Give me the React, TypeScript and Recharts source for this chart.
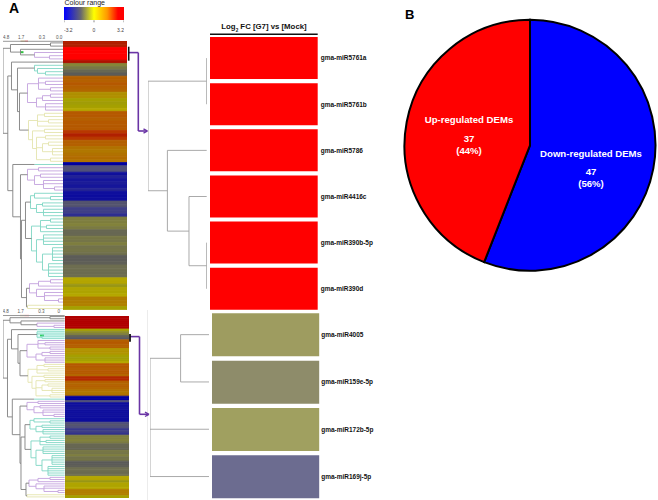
import React from 'react';
import { BarChart, Bar, Cell, ComposedChart, Line, PieChart, Pie, XAxis, YAxis, ReferenceLine, ReferenceArea } from 'recharts';

const FONT = '"Liberation Sans", Arial, sans-serif';

// log2 FC per row (84 miRNAs each)
const upperRows = [
  2.7, 2.7, 3.2, 3.2, 3.2, 3.2, 2.8, -0.1, -0.3, -0.6, -0.8, 1.8, 1.8, 1.9, 1.8, 1.7, 1.0, 1.0, 0.3, 0.25, 0.3,
  0.6, 1.9, 1.9, 1.8, 1.9, 1.9, 1.9, 2.4, 2.7, 2.4, 1.8, 1.8, 1.5, 1.4, 1.5, 1.6, 1.5, -3.0, -1.1, -1.1, -2.2,
  -1.9, -2.1, -2.0, -2.1, -1.8, -2.3, -2.4, -2.3, -1.0, -1.0, -1.3, -1.3, -1.6, -0.2, -0.2, -0.15, -0.25, -0.6,
  -0.6, -0.3, -0.35, -0.2, -0.4, -0.35, -0.45, -0.8, -0.8, -0.75, -0.5, -0.5, -0.55, -0.5, 0.6, 0.65, 0.15, 0.5,
  0.45, 0.6, 1.3, 1.3, 1.25, 0.3,
];
const lowerRows = [
  2.9, 2.9, 2.9, 2.9, 2.9, 2.9, 0.4, 0.0, -0.2, -0.7, -0.9, 1.8, 1.9, 1.8, 1.8, 0.9, 1.0, 0.9, 0.3, 0.25, 0.3,
  0.6, 1.9, 1.9, 1.8, 1.9, 1.9, 1.7, 2.6, 2.6, 1.8, 1.7, 1.8, 1.7, 1.5, 1.4, 1.5, -3.0, -3.0, -1.1, -2.3, -2.2,
  -2.1, -2.2, -2.3, -2.2, -2.3, -2.3, -2.4, -1.1, -1.0, -1.1, -1.4, -1.3, -1.5, -0.2, -0.2, -0.15, -0.25, -0.6,
  -0.6, -0.65, -0.3, -0.35, -0.2, -0.4, -0.35, -0.8, -0.8, -0.75, -0.5, -0.5, -0.55, -0.5, 0.6, 0.65, 0.15, 0.5,
  0.45, 0.6, 1.3, 1.3, 1.25, 0.3,
];

const upperNames = ['gma-miR5761a', 'gma-miR5761b', 'gma-miR5786', 'gma-miR4416c', 'gma-miR390b-5p', 'gma-miR390d'];
const upperFills = ['#ff0000', '#ff0000', '#ff0000', '#ff0000', '#ff0000', '#ff0000'];
const lowerNames = ['gma-miR4005', 'gma-miR159e-5p', 'gma-miR172b-5p', 'gma-miR169j-5p'];
const lowerFills = ['#9e9c60', '#8e8c6a', '#a0a060', '#6c6c90'];

const pieNames = ['Down-regulated DEMs', 'Up-regulated DEMs'];
const pieCounts = [47, 37];
const pieFills = ['#0000ff', '#ff0000'];

const scaleTicks = [5.7, 20.7, 41.5, 58.7];
const scaleLabels = ['4.8', '1.7', '0.3', '0.0'];
const lowerScaleLabels = ['4.8', '1.7', '0.3', '0'];
const rangeTicks = [-3.2, 0, 3.2];

// dimmed heat colours as they appear in the columns
const heatStops: [number, string][] = [
  [-3.2, '#0000a0'], [-3.0, '#0000a0'], [-2.2, '#10109c'], [-2.0, '#1c1c98'], [-1.4, '#38388c'], [-1.1, '#50507a'],
  [-0.8, '#5c5c58'], [-0.5, '#6e6e50'], [-0.3, '#777745'], [-0.1, '#858538'], [0.3, '#a5a000'], [0.6, '#b5a800'],
  [1.0, '#b09000'], [1.4, '#b07800'], [1.8, '#b46000'], [2.4, '#b83800'], [2.7, '#b02000'], [2.9, '#b00000'],
  [3.1, '#c00000'], [3.2, '#ff0000'],
];

const heatColor = (v: number) => {
  for (let i = 1; i < heatStops.length; i++) {
    const [v0, c0] = heatStops[i - 1];
    const [v1, c1] = heatStops[i];
    if (v <= v1) {
      const t = (v - v0) / (v1 - v0);
      const ch = (c: string, k: number) => parseInt(c.slice(k, k + 2), 16);
      const mix = (k: number) => Math.round(ch(c0, k) + (ch(c1, k) - ch(c0, k)) * Math.max(t, 0));
      return `rgb(${mix(1)},${mix(3)},${mix(5)})`;
    }
  }
  return '#ff0000';
};

// dendrograms: each node is [distance, colour, ...children], a 1 is one leaf
type Tree = 1 | { x: number; color: string; kids: Tree[] };
const n = (x: number, color: string, ...kids: Tree[]): Tree => ({ x, color, kids });

const G = '#808080';
const L = '#a0a0a0';
const P = '#c3a2de';
const T = '#7fd6c4';
const Y = '#e4e4ae';

const purpleA = n(27, P, n(38, P, 1, n(45, P, 1, 1), n(50, P, 1, 1)), n(36, P, n(42, P, n(50, P, 1, 1), 1), n(45, P, 1, 1, 1)));
const yellowA = n(28, Y, n(37, Y, n(44, Y, 1, 1), n(48, Y, 1, 1), 1), n(32, Y, n(44, Y, 1, 1), n(36, Y, n(45, Y, 1, 1), n(42, Y, n(48, Y, 1, 1), n(52, Y, 1, 1, 1)), n(50, Y, 1, 1))));
const tealTop = n(34, T, 1, n(37, T, 1, n(45, T, 1, 1)));
const purpleB = n(27, P, n(38, P, 1, 1), n(34, P, n(40, P, 1, 1), n(43, P, 1, 1, n(54, P, 1, 1))));
const tealBlue = n(30, T, n(34, T, 1, n(50, T, 1, 1)), n(36, T, n(42, T, 1, 1), n(43, T, 1, 1, 1)));
const tealOlive = n(31, T, n(40, T, n(50, T, 1, 1), n(46, T, 1, 1), 1), n(36, T, n(43, T, 1, 1, 1, 1), n(42, T, n(52, T, 1, 1, 1, 1, 1), n(48, T, 1, 1, 1, 1, 1))));
const purpleC = n(29, P, n(38, P, n(50, P, 1, 1), 1), n(36, P, 1, n(44, P, 1, 1, n(58, P, 1, 1))));
const lowerBranch = n(12.3, G, n(34, T, 1), n(20, G, purpleB, n(21, G, n(25, G, tealBlue, tealOlive), n(26, G, purpleC, n(27, Y, 1, 1)))));

const upperTree = n(2.5, G,
  n(10, G, n(50, G, 1, 1), n(20, G, 1, n(34, P, 1, n(49, P, 1, 1)))),
  n(7.3, G, n(11, G, 1, n(17, G, tealTop, n(19, G, purpleA, yellowA))), lowerBranch));

const lowerTree = n(3, G,
  n(10, G, n(50, G, 1, 1), n(21, G, 1, n(37, P, 1, n(54, P, 1, 1)))),
  n(7.5, G, n(11.5, G, n(37, T, 1), n(18, G, n(37, T, 1, 1, n(42, T, 1, 1)), n(20, G, purpleA, yellowA))), lowerBranch));

const upperDetailTree = n(148.3, L, n(207, L, 1, 1), n(167.7, L, 1, n(189.3, L, 1, n(207, L, 1, 1))));
const lowerDetailTree = n(149.7, L, n(180.3, L, 1, 1), 1, 1);

interface Seg { x1: number; y1: number; x2: number; y2: number; color: string; }

const flatten = (root: Tree, leafX: number) => {
  const segs: Seg[] = [];
  let row = 0;
  const walk = (node: Tree, parent?: { x: number; color: string }): number => {
    if (node === 1) {
      const y = row + 0.5;
      row++;
      segs.push({ x1: parent!.x, y1: y, x2: leafX, y2: y, color: parent!.color });
      return y;
    }
    const ys = node.kids.map((k) => walk(k, node));
    const y = (ys[0] + ys[ys.length - 1]) / 2;
    segs.push({ x1: node.x, y1: ys[0], x2: node.x, y2: ys[ys.length - 1], color: node.color });
    if (parent) segs.push({ x1: parent.x, y1: y, x2: node.x, y2: y, color: parent.color });
    return y;
  };
  walk(root);
  return segs;
};

const Place = ({ left, top, children }: { left: number; top: number; children: React.ReactNode }) => (
  <div style={{ position: 'absolute', left, top }}>{children}</div>
);

// one stacked column: every row is a 1-high slice coloured by its log2 FC
const HeatColumn = ({ rows, width, height }: { rows: number[]; width: number; height: number }) => {
  const datum: Record<string, number | string> = { name: 'heat' };
  rows.forEach((_, i) => {
    datum[`r${i}`] = 1;
  });
  return (
    <BarChart width={width} height={height} data={[datum]} margin={{ top: 0, right: 0, bottom: 0, left: 0 }} barCategoryGap={0}>
      <XAxis type="category" dataKey="name" hide />
      <YAxis type="number" domain={[0, rows.length]} reversed hide />
      {rows.map((fc, i) => (
        <Bar key={i} dataKey={`r${i}`} stackId="heat" fill={heatColor(fc)} stroke={heatColor(fc)} strokeWidth={0.8} isAnimationActive={false} />
      ))}
    </BarChart>
  );
};

const TreeChart = ({ root, rows, domain, leafX, width, height, labels, axisHeight = 0, strokeWidth = 0.9, children }: any) => {
  const corners = [{ x: domain[0], y: 0 }, { x: domain[1], y: rows }];
  return (
    <ComposedChart width={width} height={height} data={corners} margin={{ top: 0, right: 0, bottom: 0, left: 0 }}>
      {labels ? (
        <XAxis
          type="number"
          dataKey="x"
          orientation="top"
          domain={domain}
          ticks={scaleTicks}
          interval={0}
          height={axisHeight}
          tickLine={false}
          tickMargin={0}
          stroke="#999"
          tick={{ fontSize: 4.6, fill: '#555', dy: 3.5 }}
          tickFormatter={(v: number) => labels[scaleTicks.indexOf(v)]}
        />
      ) : (
        <XAxis type="number" dataKey="x" domain={domain} hide />
      )}
      <YAxis type="number" domain={[0, rows]} reversed hide />
      <Line dataKey="y" stroke="none" dot={false} isAnimationActive={false} />
      {children}
      {flatten(root, leafX).map((s, i) => (
        <ReferenceLine
          key={i}
          ifOverflow="visible"
          stroke={s.color}
          strokeWidth={strokeWidth}
          segment={[{ x: s.x1, y: s.y1 }, { x: s.x2, y: s.y2 }]}
        />
      ))}
    </ComposedChart>
  );
};

const DetailBars = ({ names, fills, width, height, offset, tickMargin }: any) => {
  const data = names.map((name: string) => ({ name, span: 1 }));
  return (
    <BarChart width={width} height={height} data={data} layout="vertical" margin={{ top: 0, right: 0, bottom: 0, left: 0 }} barCategoryGap={offset}>
      <XAxis type="number" domain={[0, 1]} hide />
      <YAxis
        type="category"
        dataKey="name"
        orientation="right"
        width={70}
        axisLine={false}
        tickLine={false}
        tickSize={0}
        tickMargin={tickMargin}
        interval={0}
        tick={{ fontSize: 6.5, fontWeight: 700, fill: '#111', textAnchor: 'start' }}
      />
      <Bar dataKey="span" isAnimationActive={false}>
        {data.map((d: any, i: number) => (
          <Cell key={d.name} fill={fills[i]} />
        ))}
      </Bar>
    </BarChart>
  );
};

const RangeTick = ({ x, y, payload }: any) => (
  <text
    x={x}
    y={y + 8}
    fontSize={5}
    fill="#444"
    textAnchor={payload.value < 0 ? 'start' : payload.value > 0 ? 'end' : 'middle'}
  >
    {payload.value}
  </text>
);

const ColourRange = () => (
  <BarChart
    width={60}
    height={28}
    data={[{ name: 'range', span: [-3.2, 3.2] }]}
    layout="vertical"
    margin={{ top: 0, right: 0, bottom: 0, left: 0 }}
    barCategoryGap={0}
  >
    <defs>
      <linearGradient id="colourRange" x1="0" y1="0" x2="1" y2="0">
        <stop offset="0%" stopColor="#0000ff" />
        <stop offset="28%" stopColor="#666670" />
        <stop offset="50%" stopColor="#ffff00" />
        <stop offset="72%" stopColor="#ff9800" />
        <stop offset="90%" stopColor="#ff0000" />
        <stop offset="100%" stopColor="#ff0000" />
      </linearGradient>
    </defs>
    <XAxis type="number" domain={[-3.2, 3.2]} ticks={rangeTicks} interval={0} height={14.7} tickSize={2} axisLine={false} stroke="#888" tick={<RangeTick />} />
    <YAxis type="category" dataKey="name" hide />
    <Bar dataKey="span" fill="url(#colourRange)" isAnimationActive={false} />
  </BarChart>
);

// hand placed offsets of the slice captions from the pie centre
const pieCaptions = [
  { dx: 61, lines: [8.4, 26.7, 38.7] },
  { dx: -61, lines: [-25.3, -6.3, 5.4] },
];

const renderPieLabel = ({ cx, cy, index, name, value }: any) => {
  const { dx, lines } = pieCaptions[index];
  const total = pieCounts.reduce((a, b) => a + b, 0);
  const rows = [name, String(value), `(${Math.round((value / total) * 100)}%)`];
  return (
    <g key={name}>
      {rows.map((t, i) => (
        <text key={i} x={cx + dx} y={cy + lines[i] + 3.3} fill="#fff" fontSize={9.6} fontWeight={700} textAnchor="middle">
          {t}
        </text>
      ))}
    </g>
  );
};

// connector lines between the columns and the close-ups
const purpleUpper = [[129, 52.6], [138.3, 52.6], [138.3, 131], [146.5, 131]];
const purpleLower = [[130, 336.6], [139.5, 336.6], [139.5, 414.3], [148, 414.3]];
const pageCorners = [{ x: 0, y: 0 }, { x: 658, y: 500 }];

const Overlay = () => {
  const path = (pts: number[][], stroke: string, strokeWidth: number, prefix: string) =>
    pts.slice(1).map((p, i) => (
      <ReferenceLine
        key={`${prefix}${i}`}
        ifOverflow="visible"
        stroke={stroke}
        strokeWidth={strokeWidth}
        segment={[{ x: pts[i][0], y: pts[i][1] }, { x: p[0], y: p[1] }]}
      />
    ));
  const PURPLE = '#6a35a5';
  return (
    <ComposedChart width={658} height={500} data={pageCorners} margin={{ top: 0, right: 0, bottom: 0, left: 0 }}>
      <XAxis type="number" dataKey="x" domain={[0, 658]} hide />
      <YAxis type="number" domain={[0, 500]} reversed hide />
      <Line dataKey="y" stroke="none" dot={false} isAnimationActive={false} />
      {path([[147.5, 310], [147.5, 500]], '#ececec', 1, 'f')}
      {path(purpleUpper, PURPLE, 1.6, 'u')}
      {path(purpleLower, PURPLE, 1.6, 'l')}
      {path([[143.5, 128.8], [147.5, 131], [143.5, 133.2]], PURPLE, 1.4, 'ua')}
      {path([[145, 412.1], [149, 414.3], [145, 416.5]], PURPLE, 1.4, 'la')}
      {path([[128.7, 46.7], [128.7, 60.7]], '#111', 1.6, 'ub')}
      {path([[130, 334], [130, 341.7]], '#111', 1.8, 'lb')}
      {path([[210, 34.3], [317.7, 34.3]], '#111', 1.4, 't')}
    </ComposedChart>
  );
};

export default function App() {
  return (
    <div style={{ position: 'relative', width: 658, height: 500, background: '#fff', overflow: 'hidden', fontFamily: FONT }}>
      <style>{'body{margin:0}'}</style>

      <div style={{ position: 'absolute', left: 9, top: 0, fontSize: 14, lineHeight: '16px', fontWeight: 700 }}>A</div>
      <div style={{ position: 'absolute', left: 405, top: 7, fontSize: 13, lineHeight: '15px', fontWeight: 700 }}>B</div>
      <div style={{ position: 'absolute', left: 64.5, top: -1, fontSize: 7, lineHeight: '8px', color: '#222' }}>Colour range</div>
      <div style={{ position: 'absolute', left: 210, width: 108, top: 22, textAlign: 'center', fontSize: 7.8, lineHeight: '9px', fontWeight: 700, color: '#111', whiteSpace: 'nowrap' }}>
        Log<sub style={{ fontSize: 4.6, lineHeight: 0 }}>2</sub> FC [G7] vs [Mock]
      </div>

      <Place left={64.3} top={6.7}><ColourRange /></Place>

      <Place left={2.5} top={30}>
        <TreeChart root={upperTree} rows={84} domain={[2.5, 63.3]} leafX={63.3} width={60.8} height={280.1} labels={scaleLabels} axisHeight={11.3}>
          <ReferenceLine ifOverflow="visible" stroke="#b08030" strokeWidth={1.2} segment={[{ x: 20, y: 0 }, { x: 24.5, y: 0 }]} />
          <ReferenceLine ifOverflow="visible" stroke="#e02020" strokeWidth={1.2} segment={[{ x: 24.5, y: 0 }, { x: 27.5, y: 0 }]} />
          <ReferenceLine ifOverflow="visible" stroke="#30c040" strokeWidth={2} segment={[{ x: 19.5, y: 3.4 }, { x: 23, y: 3.4 }]} />
        </TreeChart>
      </Place>
      <Place left={63.3} top={41.3}><HeatColumn rows={upperRows} width={64} height={268.8} /></Place>

      <Place left={3} top={306}>
        <TreeChart root={lowerTree} rows={84} domain={[3, 64.7]} leafX={64.7} width={61.7} height={192} labels={lowerScaleLabels} axisHeight={9.5}>
          <ReferenceArea ifOverflow="visible" x1={37} x2={64.7} y1={6} y2={11} fill="#e2fcf7" fillOpacity={1} stroke="none" />
          <ReferenceLine ifOverflow="visible" stroke="#b08030" strokeWidth={1.2} segment={[{ x: 20, y: 0 }, { x: 24.5, y: 0 }]} />
          <ReferenceLine ifOverflow="visible" stroke="#e02020" strokeWidth={1.2} segment={[{ x: 24.5, y: 0 }, { x: 29, y: 0 }]} />
          <ReferenceLine ifOverflow="visible" stroke="#30d060" strokeWidth={2} segment={[{ x: 40, y: 9.2 }, { x: 44, y: 9.2 }]} />
        </TreeChart>
      </Place>
      <Place left={64.7} top={316}><HeatColumn rows={lowerRows} width={64} height={182} /></Place>

      <Place left={148.3} top={35.4}>
        <TreeChart root={upperDetailTree} rows={6} domain={[148.3, 207]} leafX={207} width={58.7} height={276.9} />
      </Place>
      <Place left={210} top={35.4}>
        <DetailBars names={upperNames} fills={upperFills} width={177.7} height={276.9} offset={2} tickMargin={3} />
      </Place>

      <Place left={149.7} top={310.6}>
        <TreeChart root={lowerDetailTree} rows={4} domain={[149.7, 209]} leafX={209} width={59.3} height={189.2} />
      </Place>
      <Place left={211.5} top={310.6}>
        <DetailBars names={lowerNames} fills={lowerFills} width={177.2} height={189.2} offset={2.35} tickMargin={2} />
      </Place>

      <Place left={395} top={10}>
        <PieChart width={263} height={270} margin={{ top: 0, right: 0, bottom: 0, left: 0 }}>
          <Pie
            data={pieNames.map((name, i) => ({ name, value: pieCounts[i] }))}
            dataKey="value"
            nameKey="name"
            cx={135}
            cy={135.3}
            outerRadius={125.5}
            startAngle={90}
            endAngle={-270}
            stroke="#000"
            strokeWidth={2}
            label={renderPieLabel}
            labelLine={false}
            isAnimationActive={false}
          >
            {pieFills.map((fill) => (
              <Cell key={fill} fill={fill} />
            ))}
          </Pie>
        </PieChart>
      </Place>

      <Place left={0} top={0}><Overlay /></Place>
    </div>
  );
}
